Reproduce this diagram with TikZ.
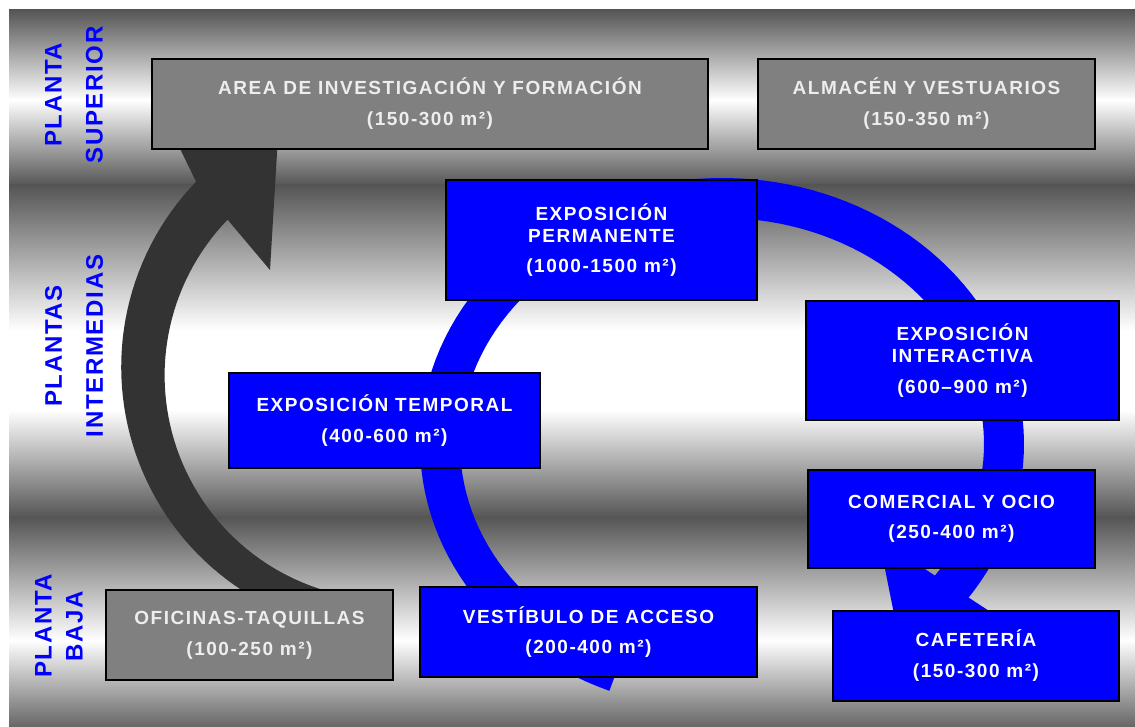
\documentclass[tikz,border=0pt]{standalone}
\usepackage{fontspec}
\setmainfont{Liberation Sans}
\newfontfamily\boxfont[LetterSpace=8]{Liberation Sans}
\newfontfamily\floorfont[LetterSpace=7]{Liberation Sans}
\usetikzlibrary{positioning}
\definecolor{metaldark}{RGB}{85,85,85}
\definecolor{boxgray}{RGB}{128,128,128}
\definecolor{boxblue}{RGB}{0,0,255}
\definecolor{arrowgray}{RGB}{51,51,51}

\begin{document}
\begin{tikzpicture}[x=1pt, y=-1pt,
    box/.style={draw=black, line width=2pt, inner sep=0pt, align=center, text=white,
        font=\boxfont\bfseries\fontsize{19}{22}\selectfont},
    graybox/.style={box, fill=boxgray, text=white!93!black},
    bluebox/.style={box, fill=boxblue},
    floorlabel/.style={rotate=90, align=center, text=boxblue,
        font=\floorfont\bfseries\fontsize{24}{41}\selectfont}]

        % Metallic background
        \useasboundingbox (0,0) rectangle (1135,727);
        \shade[top color=metaldark, bottom color=white] (9,10) rectangle (1135,100.5);
        \shade[top color=white, bottom color=metaldark] (9,100) rectangle (1135,185.5);
        \shade[top color=metaldark, bottom color=white] (9,185) rectangle (1135,330.5);
        \fill[white] (9,330) rectangle (1135,410.5);
        \shade[top color=white, bottom color=metaldark] (9,410) rectangle (1135,517.5);
        \shade[top color=metaldark, bottom color=white] (9,517) rectangle (1135,640.5);
        \shade[top color=white, bottom color=metaldark!90!white] (9,640) rectangle (1135,727);

        % Dark arrow
        \fill[arrowgray] plot[domain=100:224, samples=60] ({388+266.8*cos(\x)}, {367+266.8*sin(\x)})
            -- (167,122) -- (282,70) -- (270,270)
            -- plot[domain=224:100, samples=60] ({389+224.4*cos(\x)}, {375.5+224.4*sin(\x)}) -- cycle;

        % Blue ring
        \draw[boxblue, line width=40pt] plot[domain=112:398, samples=120] ({722+282*cos(\x)}, {444+246*sin(\x)});
        \fill[boxblue] (879,539) -- (1035,641) -- (905,669) -- cycle;

        % Floor labels
        \node[floorlabel] (superior) at (74,95) {PLANTA\\SUPERIOR};
        \node[floorlabel] (intermedias) at (74,346) {PLANTAS\\INTERMEDIAS};
        \node[floorlabel, font=\floorfont\bfseries\fontsize{24}{31}\selectfont] (baja) at (59,626) {PLANTA\\BAJA};

        % Upper floor
        \node[graybox, minimum width=556pt, minimum height=90pt] (investigacion) at (430,104) {AREA DE INVESTIGACIÓN Y FORMACIÓN\\[9pt](150-300 m²)};
        \node[graybox, minimum width=337pt, minimum height=90pt, right=48pt of investigacion] (almacen) {ALMACÉN Y VESTUARIOS\\[9pt](150-350 m²)};

        % Middle floors
        \node[bluebox, minimum width=311pt, minimum height=120pt] (permanente) at (601.5,240) {EXPOSICIÓN\\PERMANENTE\\[8pt](1000-1500 m²)};
        \node[bluebox, minimum width=311pt, minimum height=95pt] (temporal) at (384.5,420.5) {EXPOSICIÓN TEMPORAL\\[9pt](400-600 m²)};
        \node[bluebox, minimum width=313pt, minimum height=119pt] (interactiva) at (962.5,360.5) {EXPOSICIÓN\\INTERACTIVA\\[9pt](600–900 m²)};
        \node[bluebox, minimum width=287pt, minimum height=98pt] (comercial) at (951.5,519) {COMERCIAL Y OCIO\\[8pt](250-400 m²)};

        % Ground floor
        \node[graybox, minimum width=287pt, minimum height=90pt] (oficinas) at (249.5,635) {OFICINAS-TAQUILLAS\\[9pt](100-250 m²)};
        \node[bluebox, minimum width=337pt, minimum height=90pt] (vestibulo) at (588.5,632) {VESTÍBULO DE ACCESO\\[8pt](200-400 m²)};
        \node[bluebox, minimum width=286pt, minimum height=90pt] (cafeteria) at (976,656) {CAFETERÍA\\[9pt](150-300 m²)};

    \end{tikzpicture}
\end{document}
